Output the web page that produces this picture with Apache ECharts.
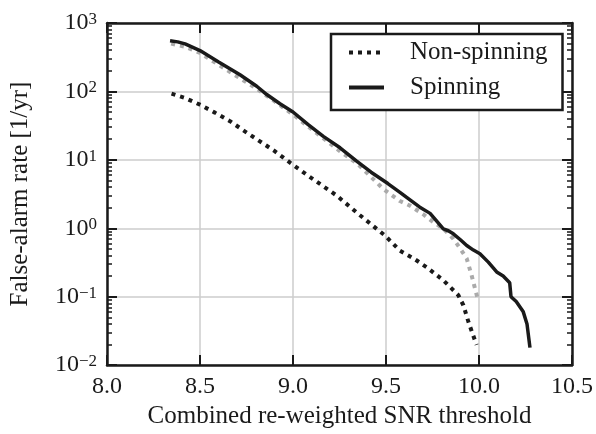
<!DOCTYPE html>
<html>
<head>
<meta charset="utf-8">
<script src="https://cdn.jsdelivr.net/npm/echarts@6/dist/echarts.min.js"></script>
<style>html,body{margin:0;padding:0;background:#fff}#c{width:596px;height:434px}</style>
</head>
<body>
<div id="c"></div>
<script>
// ---- data ----
const nonSpinX = [8.347, 8.42, 8.5, 8.58, 8.661, 8.733, 8.805, 8.9, 8.984, 9.1, 9.235, 9.36, 9.495, 9.575, 9.65, 9.718, 9.808, 9.889, 9.916, 9.943, 9.965, 9.987];
const nonSpinY = [93, 80, 64, 49, 36.7, 27, 20, 13.5, 9.1, 5.4, 3.0, 1.55, 0.78, 0.47, 0.36, 0.27, 0.174, 0.105, 0.075, 0.043, 0.029, 0.0197];

const spinX = [8.339, 8.38, 8.42, 8.5, 8.6, 8.715, 8.805, 8.859, 8.93, 9.0, 9.08, 9.163, 9.253, 9.342, 9.42, 9.51, 9.575, 9.611, 9.68, 9.737, 9.775, 9.808, 9.835, 9.862, 9.9, 9.934, 9.97, 10.005, 10.05, 10.095, 10.13, 10.165, 10.172, 10.2, 10.238, 10.258, 10.274];
const spinY = [550, 530, 495, 395, 270, 175, 119, 90, 66, 50, 33, 22, 15, 9.6, 6.6, 4.5, 3.35, 2.83, 2.05, 1.65, 1.25, 0.98, 0.92, 0.83, 0.68, 0.56, 0.48, 0.425, 0.32, 0.23, 0.2, 0.16, 0.1, 0.085, 0.06, 0.04, 0.018];

const refX = [8.345, 8.42, 8.5, 8.6, 8.7, 8.8, 8.9, 9.0, 9.1, 9.25, 9.35, 9.486, 9.575, 9.629, 9.7, 9.754, 9.81, 9.862, 9.9, 9.934, 9.96, 9.99];
const refY = [500, 450, 365, 245, 165, 112, 72, 46, 28, 13.5, 8.6, 3.74, 2.5, 2.14, 1.6, 1.23, 0.98, 0.70, 0.5, 0.36, 0.206, 0.10];

const xTicks = [8.0, 8.5, 9.0, 9.5, 10.0, 10.5];
const yTicks = [0.01, 0.1, 1, 10, 100, 1000];
const yMinorTicks = [0.02, 0.03, 0.04, 0.05, 0.06, 0.07, 0.08, 0.09,
  0.2, 0.3, 0.4, 0.5, 0.6, 0.7, 0.8, 0.9,
  2, 3, 4, 5, 6, 7, 8, 9,
  20, 30, 40, 50, 60, 70, 80, 90,
  200, 300, 400, 500, 600, 700, 800, 900];

const FONT = 'Liberation Serif';
const INK = '#1a1a1a';

function pairs(xs, ys) { return xs.map((x, i) => [x, ys[i]]); }
function supLabel(v) {
  const e = Math.round(Math.log10(v));
  const s = e < 0 ? '\u2212' + (-e) : String(e);
  return '{b|10}{e|' + s + '}';
}

const chart = echarts.init(document.getElementById('c'), null, {renderer: 'canvas'});
const axisLine = {show: true, lineStyle: {color: INK, width: 2.5}};
const baseLog = {type: 'log', logBase: 10, min: 0.01, max: 1000, gridIndex: 0};
const baseX = {type: 'value', min: 8, max: 10.5, interval: 0.5, gridIndex: 0};

chart.setOption({
  animation: false,
  backgroundColor: '#fff',
  textStyle: {fontFamily: FONT},
  grid: {left: 107, right: 24, top: 23, bottom: 67},
  legend: {
    data: ['Non-spinning', 'Spinning'],
    orient: 'vertical',
    left: 331, top: 34,
    padding: [6, 15, 10, 16],
    itemWidth: 35, itemHeight: 14, itemGap: 10,
    borderColor: INK, borderWidth: 2.5, borderRadius: 0,
    backgroundColor: '#fff',
    itemStyle: {opacity: 0},
    lineStyle: {width: 4},
    textStyle: {fontFamily: FONT, fontSize: 25, color: INK, lineHeight: 24, padding: [0, 0, 0, 21]}
  },
  xAxis: [
    Object.assign({}, baseX, {
      position: 'bottom',
      name: 'Combined re-weighted SNR threshold',
      nameLocation: 'middle', nameGap: 33,
      nameTextStyle: {fontFamily: FONT, fontSize: 25, color: INK},
      axisLine: axisLine,
      axisTick: {show: true, inside: true, length: 10, lineStyle: {color: INK, width: 2}},
      axisLabel: {show: true, margin: 10, fontFamily: FONT, fontSize: 24, color: INK,
        customValues: xTicks, formatter: v => v.toFixed(1)},
      splitLine: {show: true, lineStyle: {color: '#cccccc', width: 1.5}}
    }),
    Object.assign({}, baseX, {
      position: 'top',
      axisLine: axisLine,
      axisTick: {show: true, inside: true, length: 10, lineStyle: {color: INK, width: 2}},
      axisLabel: {show: false},
      splitLine: {show: false}
    })
  ],
  yAxis: [
    Object.assign({}, baseLog, {
      position: 'left', interval: 1,
      name: 'False-alarm rate [1/yr]',
      nameLocation: 'middle', nameGap: 74,
      nameTextStyle: {fontFamily: FONT, fontSize: 25, color: INK},
      axisLine: axisLine,
      axisTick: {show: true, inside: true, length: 10, lineStyle: {color: INK, width: 2}, customValues: yTicks},
      axisLabel: {show: true, margin: 10, customValues: yTicks, formatter: supLabel,
        rich: {
          b: {fontFamily: FONT, fontSize: 24, color: INK, lineHeight: 24},
          e: {fontFamily: FONT, fontSize: 17, color: INK, verticalAlign: 'top', lineHeight: 12}
        }},
      splitLine: {show: true, lineStyle: {color: '#cccccc', width: 1.5}}
    }),
    Object.assign({}, baseLog, {
      position: 'right', interval: 1,
      axisLine: axisLine,
      axisTick: {show: true, inside: true, length: 10, lineStyle: {color: INK, width: 2}, customValues: yTicks},
      axisLabel: {show: false},
      splitLine: {show: false}
    }),
    Object.assign({}, baseLog, {
      position: 'left', interval: 1,
      axisLine: {show: false},
      axisTick: {show: true, inside: true, length: 5, lineStyle: {color: INK, width: 1.5}, customValues: yMinorTicks},
      axisLabel: {show: false},
      splitLine: {show: false}
    }),
    Object.assign({}, baseLog, {
      position: 'right', interval: 1,
      axisLine: {show: false},
      axisTick: {show: true, inside: true, length: 5, lineStyle: {color: INK, width: 1.5}, customValues: yMinorTicks},
      axisLabel: {show: false},
      splitLine: {show: false}
    })
  ],
  series: [
    {
      name: 'Reference', type: 'line', xAxisIndex: 0, yAxisIndex: 0,
      data: pairs(refX, refY), symbol: 'none', smooth: false,
      lineStyle: {color: '#aaaaaa', width: 4, type: [4, 5], cap: 'butt'},
      z: 2
    },
    {
      name: 'Non-spinning', type: 'line', xAxisIndex: 0, yAxisIndex: 0,
      data: pairs(nonSpinX, nonSpinY), symbol: 'none',
      itemStyle: {color: INK},
      lineStyle: {color: INK, width: 4, type: [4, 5], cap: 'butt'},
      z: 3
    },
    {
      name: 'Spinning', type: 'line', xAxisIndex: 0, yAxisIndex: 0,
      data: pairs(spinX, spinY), symbol: 'none',
      itemStyle: {color: INK},
      lineStyle: {color: INK, width: 3.5, type: 'solid'},
      z: 4
    }
  ]
});
</script>
</body>
</html>
